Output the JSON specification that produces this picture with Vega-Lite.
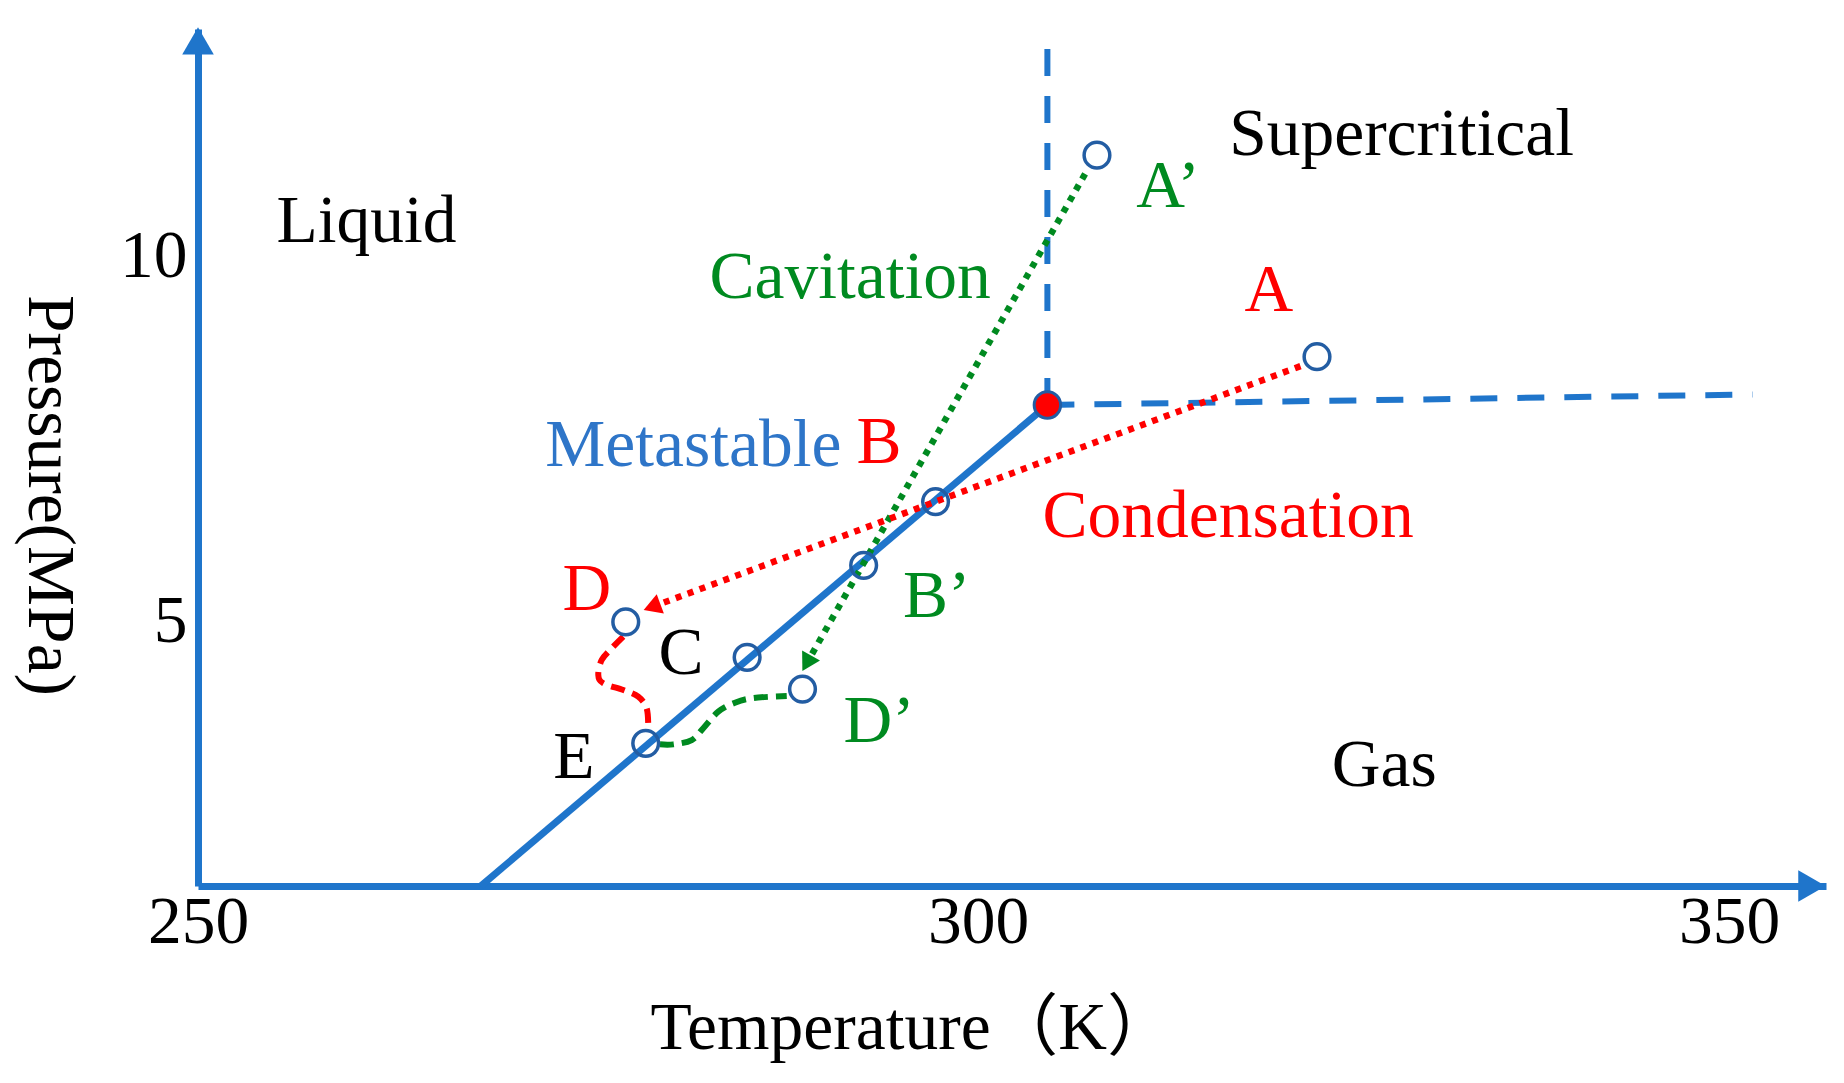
{
  "$schema": "https://vega.github.io/schema/vega-lite/v6.json",
  "width": 1628,
  "height": 857,
  "autosize": {"type": "none"},
  "padding": {"left": 198, "top": 29, "right": 18, "bottom": 197},
  "background": "white",
  "config": {"view": {"stroke": null}},
  "datasets": {
    "lines": [
      {"series": "saturation", "i": 1, "T": 268.13, "p": 1.387},
      {"series": "saturation", "i": 2, "T": 304.62, "p": 7.968},
      {"series": "boundaryT", "i": 1, "T": 304.62, "p": 7.968},
      {"series": "boundaryT", "i": 2, "T": 304.62, "p": 12.84},
      {"series": "boundaryP", "i": 1, "T": 304.62, "p": 7.968},
      {"series": "boundaryP", "i": 2, "T": 351.57, "p": 8.113},
      {"series": "cavitation", "i": 1, "T": 307.13, "p": 11.13},
      {"series": "cavitation", "i": 2, "T": 289.02, "p": 4.435},
      {"series": "condensation", "i": 1, "T": 321.47, "p": 8.5},
      {"series": "condensation", "i": 2, "T": 279.1, "p": 5.205},
      {"series": "redCurve", "i": 1, "T": 277.26, "p": 4.799},
      {"series": "redCurve", "i": 2, "T": 276.52, "p": 4.64},
      {"series": "redCurve", "i": 3, "T": 275.88, "p": 4.48},
      {"series": "redCurve", "i": 4, "T": 275.66, "p": 4.274},
      {"series": "redCurve", "i": 5, "T": 275.98, "p": 4.161},
      {"series": "redCurve", "i": 6, "T": 277.26, "p": 4.069},
      {"series": "redCurve", "i": 7, "T": 278.22, "p": 3.977},
      {"series": "redCurve", "i": 8, "T": 278.76, "p": 3.819},
      {"series": "redCurve", "i": 9, "T": 278.86, "p": 3.567},
      {"series": "greenCurve", "i": 1, "T": 279.61, "p": 3.325},
      {"series": "greenCurve", "i": 2, "T": 280.47, "p": 3.325},
      {"series": "greenCurve", "i": 3, "T": 281.65, "p": 3.384},
      {"series": "greenCurve", "i": 4, "T": 282.39, "p": 3.545},
      {"series": "greenCurve", "i": 5, "T": 283.35, "p": 3.772},
      {"series": "greenCurve", "i": 6, "T": 284.42, "p": 3.895},
      {"series": "greenCurve", "i": 7, "T": 285.6, "p": 3.959},
      {"series": "greenCurve", "i": 8, "T": 287.74, "p": 3.987}
    ],
    "states": [
      {"state": "A’", "T": 307.92, "p": 11.387},
      {"state": "A", "T": 322.57, "p": 8.629},
      {"state": "B", "T": 297.28, "p": 6.645},
      {"state": "B’", "T": 292.67, "p": 5.774},
      {"state": "C", "T": 285.2, "p": 4.516},
      {"state": "D", "T": 277.42, "p": 5.0},
      {"state": "D’", "T": 288.75, "p": 4.081},
      {"state": "E", "T": 278.7, "p": 3.339}
    ],
    "labels": [
      {"text": "Liquid", "group": "phase", "T": 260.8, "p": 10.47},
      {"text": "Supercritical", "group": "phase", "T": 328.2, "p": 11.66},
      {"text": "Gas", "group": "phase", "T": 327.05, "p": 3.032},
      {"text": "C", "group": "phase", "T": 280.97, "p": 4.565},
      {"text": "E", "group": "phase", "T": 274.09, "p": 3.145},
      {"text": "Cavitation", "group": "cavitation", "T": 291.8, "p": 9.71},
      {"text": "A’", "group": "cavitation", "T": 312.65, "p": 10.95},
      {"text": "B’", "group": "cavitation", "T": 297.36, "p": 5.339},
      {"text": "D’", "group": "cavitation", "T": 293.66, "p": 3.629},
      {"text": "Condensation", "group": "condensation", "T": 316.65, "p": 6.435},
      {"text": "A", "group": "condensation", "T": 319.36, "p": 9.53},
      {"text": "B", "group": "condensation", "T": 293.66, "p": 7.45},
      {"text": "D", "group": "condensation", "T": 274.92, "p": 5.435},
      {"text": "Metastable", "group": "metastable", "T": 281.75, "p": 7.41}
    ]
  },
  "encoding": {
    "x": {
      "field": "T",
      "type": "quantitative",
      "scale": {"domain": [250, 300, 350, 356.43], "range": [0, 780, 1531, 1628], "clamp": false, "nice": false, "zero": false},
      "axis": {
        "values": [250, 300, 350],
        "title": "Temperature（K）",
        "titleFont": "Liberation Serif, Noto Sans CJK SC",
        "titleFontSize": 67.5,
        "titleFontWeight": "normal",
        "titleColor": "black",
        "titleX": 714,
        "titleY": 109,
        "labelFont": "Liberation Serif",
        "labelFontSize": 67.5,
        "labelColor": "black",
        "labelPadding": 3,
        "labelOverlap": false,
        "labelFlush": false,
        "labelBound": false,
        "ticks": false,
        "grid": false,
        "domainColor": "#1f75cb",
        "domainWidth": 7
      }
    },
    "y": {
      "field": "p",
      "type": "quantitative",
      "scale": {"domain": [1.387, 13.113], "nice": false, "zero": false},
      "axis": {
        "values": [5, 10],
        "title": "Pressure(MPa)",
        "titleFont": "Liberation Serif",
        "titleFontSize": 67.5,
        "titleFontWeight": "normal",
        "titleColor": "black",
        "titleAngle": 90,
        "titleBaseline": "middle",
        "titleX": -150,
        "titleY": 466,
        "labelFont": "Liberation Serif",
        "labelFontSize": 67.5,
        "labelColor": "black",
        "labelPadding": 11,
        "labelOverlap": false,
        "labelFlush": false,
        "labelBound": false,
        "ticks": false,
        "grid": false,
        "domainColor": "#1f75cb",
        "domainWidth": 7
      }
    }
  },
  "layer": [
    {
      "data": {"name": "lines"},
      "transform": [{"filter": "datum.series === 'saturation'"}],
      "mark": {"type": "line", "color": "#1f75cb", "strokeWidth": 7},
      "encoding": {"order": {"field": "i"}}
    },
    {
      "data": {"name": "lines"},
      "transform": [{"filter": "datum.series === 'boundaryT' || datum.series === 'boundaryP'"}],
      "mark": {"type": "line", "color": "#1f75cb", "strokeWidth": 6, "strokeDash": [27, 20]},
      "encoding": {"order": {"field": "i"}, "detail": {"field": "series"}}
    },
    {
      "data": {"name": "lines"},
      "transform": [{"filter": "datum.series === 'cavitation'"}],
      "mark": {"type": "line", "color": "#008a20", "strokeWidth": 6.5, "strokeDash": [6, 6.7]},
      "encoding": {"order": {"field": "i"}}
    },
    {
      "data": {"name": "lines"},
      "transform": [{"filter": "datum.series === 'condensation'"}],
      "mark": {"type": "line", "color": "#ff0000", "strokeWidth": 6.5, "strokeDash": [6, 6.7]},
      "encoding": {"order": {"field": "i"}}
    },
    {
      "data": {"name": "lines"},
      "transform": [{"filter": "datum.series === 'redCurve'"}],
      "mark": {"type": "line", "color": "#ff0000", "strokeWidth": 6, "strokeDash": [14, 8], "interpolate": "cardinal"},
      "encoding": {"order": {"field": "i"}}
    },
    {
      "data": {"name": "lines"},
      "transform": [{"filter": "datum.series === 'greenCurve'"}],
      "mark": {"type": "line", "color": "#008a20", "strokeWidth": 6, "strokeDash": [14, 8], "interpolate": "cardinal"},
      "encoding": {"order": {"field": "i"}}
    },
    {
      "data": {"values": [{"T": 279.1, "p": 5.205}]},
      "mark": {"type": "point", "shape": "triangle-up", "filled": true, "opacity": 1, "color": "#ff0000", "size": 420, "angle": 249.6}
    },
    {
      "data": {"values": [{"T": 289.02, "p": 4.435}]},
      "mark": {"type": "point", "shape": "triangle-up", "filled": true, "opacity": 1, "color": "#008a20", "size": 420, "angle": 209.3}
    },
    {
      "data": {"name": "states"},
      "mark": {"type": "point", "shape": "circle", "filled": false, "opacity": 1, "color": "#235da3", "strokeWidth": 3.5, "size": 660}
    },
    {
      "data": {"values": [{"T": 304.62, "p": 7.968}]},
      "mark": {"type": "point", "shape": "circle", "filled": true, "opacity": 1, "fill": "#ff0000", "stroke": "#235da3", "strokeWidth": 3, "size": 700}
    },
    {
      "data": {"values": [{"T": 250, "p": 12.95}]},
      "mark": {"type": "point", "shape": "triangle-up", "filled": true, "opacity": 1, "color": "#1f75cb", "size": 1000}
    },
    {
      "data": {"values": [{"T": 355.5, "p": 1.387}]},
      "mark": {"type": "point", "shape": "triangle-right", "filled": true, "opacity": 1, "color": "#1f75cb", "size": 1000}
    },
    {
      "data": {"name": "labels"},
      "mark": {"type": "text", "font": "Liberation Serif", "fontSize": 67.5, "align": "center", "baseline": "middle"},
      "encoding": {
        "text": {"field": "text"},
        "color": {
          "field": "group",
          "type": "nominal",
          "legend": null,
          "scale": {
            "domain": ["phase", "cavitation", "condensation", "metastable"],
            "range": ["#000000", "#008a20", "#ff0000", "#2e75c8"]
          }
        }
      }
    }
  ]
}
